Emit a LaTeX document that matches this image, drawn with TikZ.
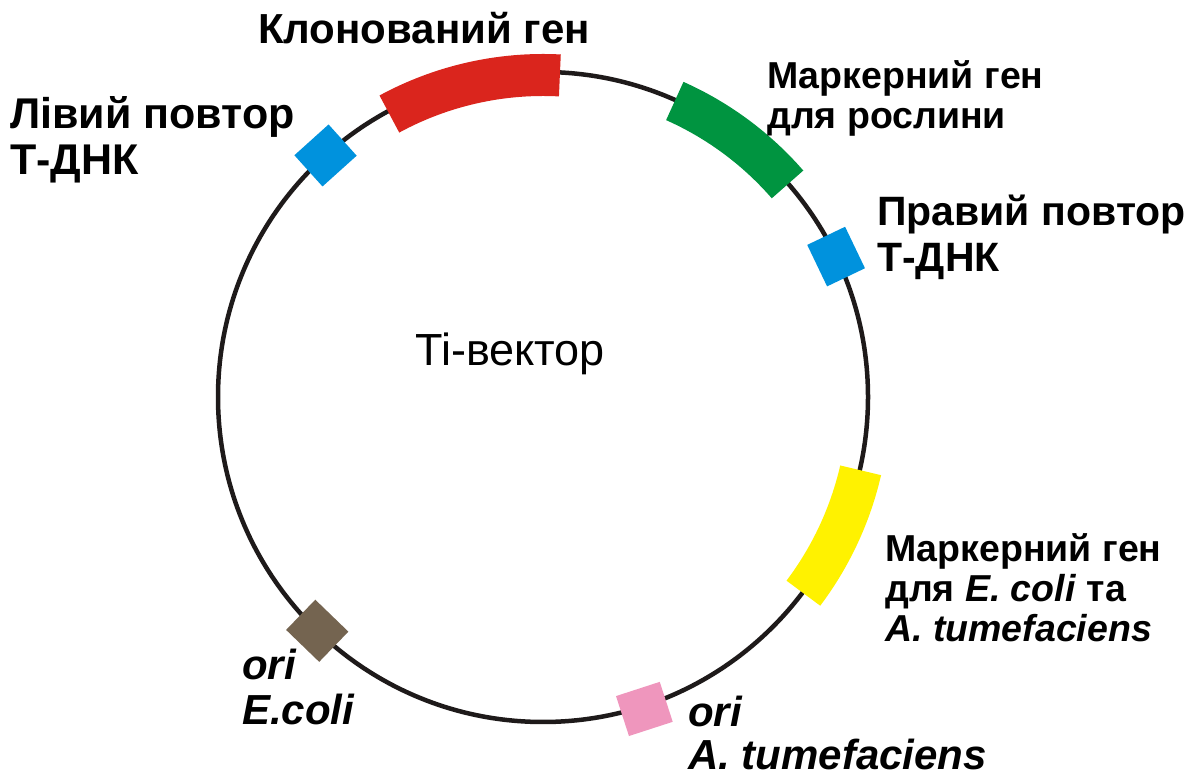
\documentclass[tikz,border=0pt]{standalone}
\usepackage{fontspec}
\setmainfont{Liberation Sans}
\usepackage{tikz}
\usetikzlibrary{positioning}
\definecolor{ringblack}{RGB}{30,26,26}
\definecolor{genred}{RGB}{218,37,29}
\definecolor{gengreen}{RGB}{0,148,64}
\definecolor{genyellow}{RGB}{255,242,0}
\definecolor{repblue}{RGB}{0,146,221}
\definecolor{oripink}{RGB}{239,150,189}
\definecolor{oribrown}{RGB}{116,100,80}

\begin{document}
\begin{tikzpicture}[x=1pt, y=1pt,
		ring/.style={draw=ringblack, line width=4.5pt},
		gene/.style={line width=42pt},
		site/.style={rectangle, inner sep=0pt, minimum width=46pt, minimum height=42pt},
		lbl/.style={anchor=north west, inner sep=0pt, align=left, font=\bfseries\fontsize{42}{46}\selectfont},
		lblsmall/.style={lbl, font=\bfseries\fontsize{37.5}{40}\selectfont},
		lblori/.style={lbl, font=\bfseries\itshape\fontsize{42}{45}\selectfont}
	]
	\useasboundingbox (0,0) rectangle (1198,775);
	\coordinate (c) at (543,378);
	
	% plasmid ring
	\draw[ring] (c) circle[radius=325];
	
	% genes
	\draw[gene, draw=genred] ([shift={(87:322)}]c) arc[start angle=87, end angle=118.5, radius=322];
	\draw[gene, draw=gengreen] ([shift={(41:324)}]c) arc[start angle=41, end angle=66, radius=324];
	\draw[gene, draw=genyellow] ([shift={(-37:326)}]c) arc[start angle=-37, end angle=-13, radius=326];
	
	% border repeats and origins
	\node[site, fill=repblue, rotate=42] (lrep) at ([shift={(132:325)}]c) {};
	\node[site, fill=repblue, rotate=-64.4] (rrep) at ([shift={(25.6:325)}]c) {};
	\node[site, fill=oribrown, rotate=136] (oriec) at ([shift={(226:325)}]c) {};
	\node[site, fill=oripink, rotate=198] (oriat) at ([shift={(288:328)}]c) {};
	
	% labels
	\node[lbl] (clone) at (258,763) {Клонований ген};
	\node[lbl, font=\bfseries\fontsize{43}{46}\selectfont] (lleft) at (10,679) {Лівий повтор\\Т-ДНК};
	\node[lblsmall] (mplant) at (767,715) {Маркерний ген\\для рослини};
	\node[lbl, font=\bfseries\fontsize{41}{46}\selectfont] (lright) at (877,580) {Правий повтор\\Т-ДНК};
	\node[lblsmall] (mbact) at (885,242) {Маркерний ген\\для \textit{E. coli} та\\\textit{A. tumefaciens}};
	\node[lblori] (lec) at (242,126) {ori\\E.coli};
	\node[lblori, font=\bfseries\itshape\fontsize{42}{43}\selectfont] (lat) at (688,79) {ori\\A. tumefaciens};
	\node[font=\fontsize{45}{50}\selectfont, inner sep=0pt] (title) at (510,421) {Ti-вектор};
\end{tikzpicture}
\end{document}
